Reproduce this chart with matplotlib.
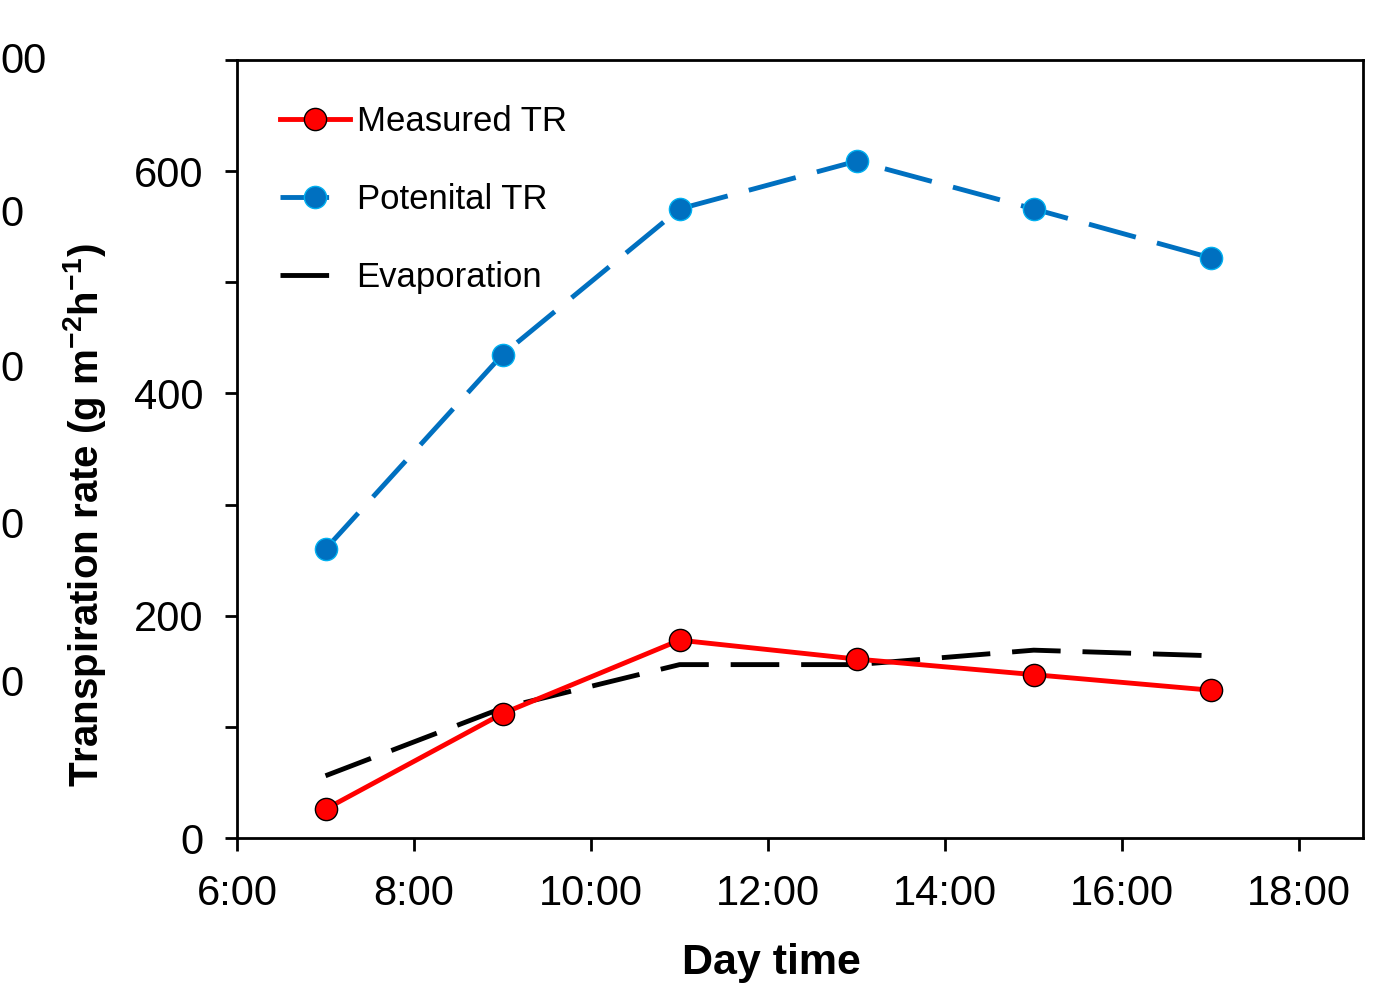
import matplotlib
matplotlib.use("Agg")
import matplotlib.pyplot as plt
from matplotlib.ticker import MultipleLocator, FuncFormatter

plt.rcParams['font.family'] = ['Liberation Sans', 'DejaVu Sans']
plt.rcParams['mathtext.fontset'] = 'custom'
plt.rcParams['mathtext.rm'] = 'Liberation Sans'
plt.rcParams['mathtext.bf'] = 'Liberation Sans:bold'

hours = [7, 9, 11, 13, 15, 17]
measured = [26, 112, 178, 161, 147, 133]
potential = [260, 435, 566, 609, 566, 522]
evaporation = [56, 117, 156, 156, 169, 164]

fig = plt.figure(figsize=(13.79, 9.94), dpi=100)
ax = fig.add_axes([237 / 1379, 1 - 838 / 994, 1126 / 1379, 778 / 994])

ax.plot(hours, measured, color='#ff0000', lw=3.5, marker='o', ms=16,
        mfc='#ff0000', mec='black', mew=1, label='Measured TR', zorder=3)
ax.plot(hours, potential, color='#0070c0', lw=3.5, dashes=(10, 4.5), marker='o', ms=16,
        mfc='#0070c0', mec='#00b0f0', mew=1, label='Potenital TR', zorder=3)
ax.plot(hours, evaporation, color='black', lw=3.5, dashes=(10, 4.5),
        label='Evaporation', zorder=2)

ax.set_xlim(6, 18.72)
ax.set_ylim(0, 700)
ax.set_xticks(range(6, 19, 2))
ax.xaxis.set_major_formatter(FuncFormatter(lambda v, p: f'{int(v)}:00'))
ax.set_yticks([0, 200, 400, 600])
ax.yaxis.set_minor_locator(MultipleLocator(100))

ax.tick_params(axis='both', which='both', direction='out', width=2, labelsize=30)
ax.tick_params(axis='both', which='major', length=9)
ax.tick_params(axis='x', which='major', pad=17)
ax.tick_params(axis='y', which='major', pad=15)
ax.tick_params(axis='y', which='minor', length=9)
ax.tick_params(axis='x', which='minor', bottom=False)
for s in ax.spines.values():
    s.set_linewidth(2)

ax.set_xlabel('Day time', fontsize=31, fontweight='bold')
ax.xaxis.set_label_coords(0.475, -0.135)
ax.set_ylabel(r'Transpiration rate (g m$\mathbf{^{-2}}$h$\mathbf{^{-1}}$)',
              fontsize=29, fontweight='bold')
ax.yaxis.set_label_coords(-0.115, 0.415)

ax.legend(loc='upper left', frameon=False, fontsize=25, handlelength=2.0,
          labelspacing=1.3, handletextpad=0.2, borderaxespad=0.0,
          bbox_to_anchor=(0.026, 0.960))

# tick labels of a neighbouring axis, cut by the left edge in the original
for ypix, txt in [(62, '00'), (215, '0'), (370, '0'), (527, '0'), (685, '0')]:
    fig.text(0.0, 1 - ypix / 994, txt, fontsize=30, va='center', ha='left')

fig.savefig('out.png', dpi=100)
